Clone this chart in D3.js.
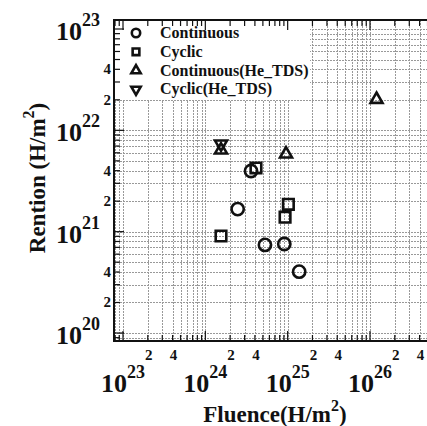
<!DOCTYPE html>
<html>
<head>
<meta charset="utf-8">
<script src="https://cdn.jsdelivr.net/npm/d3@7"></script>
<style>
  body { margin: 0; background: #fff; }
</style>
</head>
<body>
<div id="chart"></div>
<script>
// series
const seriesNames = ['Continuous', 'Cyclic', 'Continuous(He_TDS)', 'Cyclic(He_TDS)'];
const continuousFluence = [2.47e24, 3.59e24, 5.3e24, 9.1e24, 1.38e25];
const continuousRetention = [1.67e21, 3.97e21, 7.4e20, 7.55e20, 4.03e20];
const cyclicFluence = [1.55e24, 4.12e24, 9.3e24, 1.02e25];
const cyclicRetention = [9.06e20, 4.25e21, 1.39e21, 1.86e21];
const contTdsFluence = [1.55e24, 9.55e24, 1.2e26];
const contTdsRetention = [6.4e21, 5.83e21, 2.02e22];
const cycTdsFluence = [1.55e24];
const cycTdsRetention = [7.33e21];

const xDecades = [23, 24, 25, 26];
const yDecades = [20, 21, 22, 23];
const minorLabels = [2, 4];

const width = 427, height = 426;
const frame = { left: 114, right: 434, top: 20, bottom: 341 };

const svg = d3.select('#chart').append('svg')
  .attr('width', width).attr('height', height)
  .attr('font-family', "'Liberation Serif', 'DejaVu Serif', serif")
  .attr('font-weight', 'bold');

const x = d3.scaleLog().domain([1e23, 1e26]).range([123, 370]);
const y = d3.scaleLog().domain([1e20, 1e23]).range([333, 29]);

// every 1..9 position inside the frame
function logValues(scale, lo, hi, e0, e1) {
  const out = [];
  for (let e = e0; e <= e1; e++) {
    for (let k = 1; k <= 9; k++) {
      const v = k * Math.pow(10, e);
      const p = scale(v);
      if (p > lo + 1 && p < hi - 1) out.push(v);
    }
  }
  return out;
}
const xVals = logValues(x, frame.left, frame.right, 22, 26);
const yVals = logValues(y, frame.top, frame.bottom, 19, 23);

// grid
const grid = svg.append('g')
  .attr('stroke', '#999')
  .attr('stroke-width', 1)
  .attr('stroke-dasharray', '2,1');

grid.selectAll('line.gx')
  .data(xVals)
  .join('line')
  .attr('class', 'gx')
  .attr('x1', d => Math.round(x(d)) + 0.5).attr('x2', d => Math.round(x(d)) + 0.5)
  .attr('y1', frame.top).attr('y2', frame.bottom);

grid.selectAll('line.gy')
  .data(yVals)
  .join('line')
  .attr('class', 'gy')
  .attr('y1', d => Math.round(y(d)) + 0.5).attr('y2', d => Math.round(y(d)) + 0.5)
  .attr('x1', frame.left).attr('x2', frame.right);

// legend box hides the grid
svg.append('rect')
  .attr('x', frame.left).attr('y', frame.top)
  .attr('width', 196).attr('height', 80)
  .attr('fill', '#fff');

// ticks, inward
const isMajor = v => Math.abs(Math.log10(v) - Math.round(Math.log10(v))) < 1e-9;
const ticks = svg.append('g').attr('stroke', '#111').attr('stroke-width', 1.2);

ticks.selectAll('line.tb')
  .data(xVals)
  .join('line')
  .attr('x1', d => x(d)).attr('x2', d => x(d))
  .attr('y1', frame.bottom).attr('y2', d => frame.bottom - (isMajor(d) ? 10 : 6));

ticks.selectAll('line.tt')
  .data(xVals)
  .join('line')
  .attr('x1', d => x(d)).attr('x2', d => x(d))
  .attr('y1', frame.top).attr('y2', d => frame.top + (isMajor(d) ? 10 : 6));

ticks.selectAll('line.tl')
  .data(yVals)
  .join('line')
  .attr('y1', d => y(d)).attr('y2', d => y(d))
  .attr('x1', frame.left).attr('x2', d => frame.left + (isMajor(d) ? 10 : 6));

// frame
svg.append('rect')
  .attr('x', frame.left).attr('y', frame.top)
  .attr('width', frame.right - frame.left).attr('height', frame.bottom - frame.top)
  .attr('fill', 'none').attr('stroke', '#111').attr('stroke-width', 2);

// x tick labels
const xLab = svg.append('g').attr('fill', '#111');
xLab.selectAll('text.dec')
  .data(xDecades)
  .join('text')
  .attr('x', d => x(Math.pow(10, d)))
  .attr('y', 392)
  .attr('text-anchor', 'middle')
  .each(function (d) {
    const t = d3.select(this);
    t.append('tspan').attr('font-size', 26).text('10');
    t.append('tspan').attr('font-size', 18).attr('dy', -14).text(d);
  });

const xMinor = [];
xDecades.forEach(e => minorLabels.forEach(k => xMinor.push(k * Math.pow(10, e))));
xLab.selectAll('text.min')
  .data(xMinor.filter(v => x(v) < width - 4))
  .join('text')
  .attr('x', d => x(d) + 1)
  .attr('y', 360)
  .attr('text-anchor', 'middle')
  .attr('font-size', 15)
  .text(d => Math.round(d / Math.pow(10, Math.floor(Math.log10(d)))));

// y tick labels
const yLab = svg.append('g').attr('fill', '#111');
yLab.selectAll('text.dec')
  .data(yDecades)
  .join('text')
  .attr('x', 100)
  .attr('y', d => y(Math.pow(10, d)) + 11)
  .attr('text-anchor', 'end')
  .each(function (d) {
    const t = d3.select(this);
    t.append('tspan').attr('font-size', 26).text('10');
    t.append('tspan').attr('font-size', 18).attr('dy', -14).text(d);
  });

const yMinor = [];
yDecades.slice(0, 3).forEach(e => minorLabels.forEach(k => yMinor.push(k * Math.pow(10, e))));
yLab.selectAll('text.min')
  .data(yMinor)
  .join('text')
  .attr('x', 111)
  .attr('y', d => y(d) + 5)
  .attr('text-anchor', 'end')
  .attr('font-size', 15)
  .text(d => Math.round(d / Math.pow(10, Math.floor(Math.log10(d)))));

// axis titles
const xt = svg.append('text')
  .attr('x', 275).attr('y', 422)
  .attr('text-anchor', 'middle')
  .attr('fill', '#111')
  .attr('font-size', 23);
xt.append('tspan').text('Fluence(H/m');
xt.append('tspan').attr('font-size', 16).attr('dy', -11).text('2');
xt.append('tspan').attr('dy', 11).text(')');

const yt = svg.append('text')
  .attr('transform', 'translate(45,178) rotate(-90)')
  .attr('text-anchor', 'middle')
  .attr('fill', '#111')
  .attr('font-size', 23);
yt.append('tspan').text('Rention (H/m');
yt.append('tspan').attr('font-size', 16).attr('dy', -11).text('2');
yt.append('tspan').attr('dy', 11).text(')');

// markers
const shapes = [
  d3.symbol().type(d3.symbolCircle).size(118),
  d3.symbol().type(d3.symbolSquare).size(112),
  d3.symbol().type(d3.symbolTriangle).size(62),
  d3.symbol().type(d3.symbolTriangle).size(62)
];
const rotations = [0, 0, 0, 180];
const series = [
  { fx: continuousFluence, fy: continuousRetention },
  { fx: cyclicFluence, fy: cyclicRetention },
  { fx: contTdsFluence, fy: contTdsRetention },
  { fx: cycTdsFluence, fy: cycTdsRetention }
];

series.forEach((s, i) => {
  svg.append('g')
    .selectAll('path')
    .data(s.fx.map((v, j) => [v, s.fy[j]]))
    .join('path')
    .attr('d', shapes[i])
    .attr('transform', d => `translate(${x(d[0])},${y(d[1])}) rotate(${rotations[i]})`)
    .attr('fill', 'none')
    .attr('stroke', '#111')
    .attr('stroke-width', 2.6);
});

// legend
const legendShapes = [
  d3.symbol().type(d3.symbolCircle).size(55),
  d3.symbol().type(d3.symbolSquare).size(45),
  d3.symbol().type(d3.symbolTriangle).size(38),
  d3.symbol().type(d3.symbolTriangle).size(38)
];
const legend = svg.append('g')
  .selectAll('g')
  .data(seriesNames)
  .join('g')
  .attr('transform', (d, i) => `translate(136,${33 + i * 18.8})`);

legend.append('path')
  .attr('d', (d, i) => legendShapes[i]())
  .attr('transform', (d, i) => `rotate(${rotations[i]})`)
  .attr('fill', 'none')
  .attr('stroke', '#111')
  .attr('stroke-width', 2.6);

legend.append('text')
  .attr('x', 24).attr('y', 5)
  .attr('fill', '#111')
  .attr('font-size', 16)
  .text(d => d);
</script>
</body>
</html>
